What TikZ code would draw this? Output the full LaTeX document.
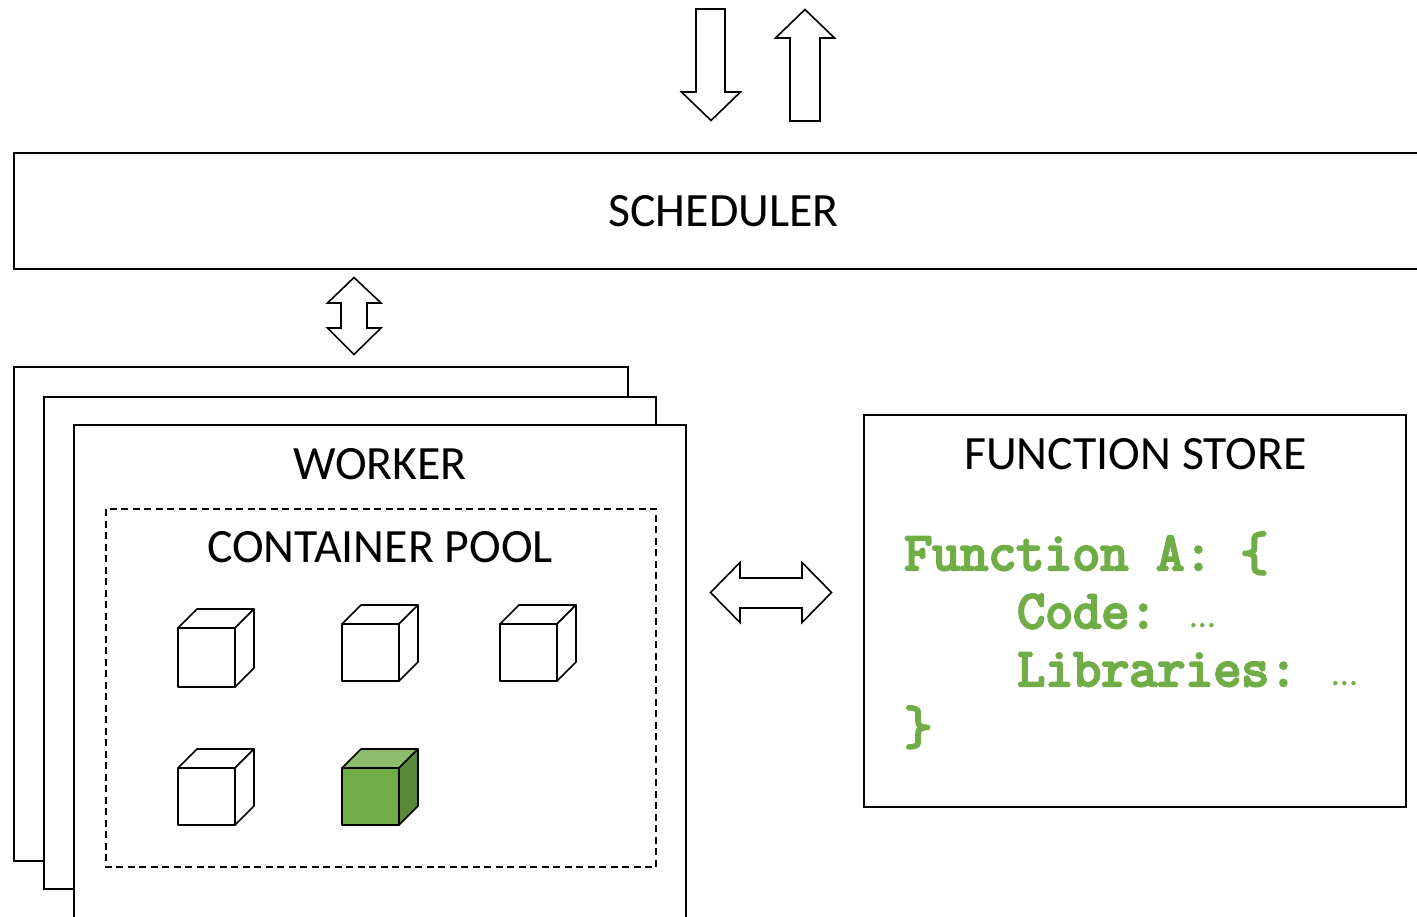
\documentclass[tikz,border=0pt]{standalone}
\usepackage{fontspec}
\setmainfont{Carlito}
\newfontfamily\codefont{Latin Modern Mono}[FakeBold=4.5]
\definecolor{cubegreen}{HTML}{70AD47}
\definecolor{cubetop}{HTML}{8DBD6C}
\definecolor{cubeside}{HTML}{5A8A39}
\definecolor{codegreen}{HTML}{70AD47}
\tikzset{
  outl/.style={draw=black,line width=1.6pt,line join=miter},
  cubeline/.style={draw=black,line width=1.6pt,line join=round},
  blockarrow/.style={outl,fill=white},
  label/.style={anchor=base,font=\fontsize{47.8}{48}\selectfont,inner sep=0pt,text=black},
  codeline/.style={anchor=base west,inner sep=0pt,text=codegreen,font=\fontsize{54.4}{54}\selectfont\codefont},
  dots/.style={anchor=base west,inner sep=0pt,text=codegreen,font=\fontsize{36}{36}\selectfont},
}
\newcommand{\drawcube}[8]{% left, front top, front bottom, back top, back bottom, front, top, side fills
  \draw[cubeline,fill=#6] (#1,#2) rectangle (#1+57,#3);
  \draw[cubeline,fill=#7] (#1,#2) -- (#1+19,#4) -- (#1+76,#4) -- (#1+57,#2) -- cycle;
  \draw[cubeline,fill=#8] (#1+57,#2) -- (#1+76,#4) -- (#1+76,#5) -- (#1+57,#3) -- cycle;
}
\begin{document}
\begin{tikzpicture}[x=1pt,y=-1pt]
\clip (0,0) rectangle (1417,917);
\fill[white] (0,0) rectangle (1417,917);

% external arrows
\draw[blockarrow] (696,9) -- (725,9) -- (725,92) -- (740.5,92) -- (711,120.5) -- (681.5,92) -- (696,92) -- cycle;
\draw[blockarrow] (805,9.5) -- (834.5,38) -- (820,38) -- (820,121) -- (790,121) -- (790,38) -- (775.5,38) -- cycle;

% scheduler
\draw[outl] (1430,153) -- (14,153) -- (14,269) -- (1430,269);
\node[label] (scheduler) at (723.5,227) {SCHEDULER};

% scheduler-worker arrow
\draw[blockarrow] (354,277.5) -- (381,303) -- (367,303) -- (367,328) -- (381,328) -- (354,354.5) -- (327.5,328) -- (341,328) -- (341,303) -- (327.5,303) -- cycle;

% worker stack
\draw[outl,fill=white] (14,367) rectangle (628,861);
\draw[outl,fill=white] (44,397) rectangle (656,889);
\draw[outl,fill=white] (74,425) rectangle (686,940);
\node[label] (worker) at (380,479) {WORKER};

% container pool
\draw[outl,line width=1.4pt,dash pattern=on 7pt off 4.5pt] (106,509) rectangle (656,867);
\node[label] (pool) at (380,562) {CONTAINER POOL};

% containers
\drawcube{178}{628}{687}{609}{668}{white}{white}{white}
\drawcube{342}{624}{681}{605}{662}{white}{white}{white}
\drawcube{500}{624}{681}{605}{662}{white}{white}{white}
\drawcube{178}{768}{825}{749}{806}{white}{white}{white}
\drawcube{342}{768}{825}{749}{806}{cubegreen}{cubetop}{cubeside}

% worker-store arrow
\draw[blockarrow] (710.5,592.5) -- (740,562.5) -- (740,578) -- (802,578) -- (802,562.5) -- (831.5,592.5) -- (802,622.5) -- (802,608) -- (740,608) -- (740,622.5) -- cycle;

% function store
\draw[outl] (864,415) rectangle (1406,807);
\node[label] (store) at (1135.5,469) {FUNCTION STORE};
\node[codeline] (fa) at (904,570) {Function A: \{};
\node[codeline] (code) at (1017,628) {Code:};
\node[dots] (codedots) at (1190,627) {…};
\node[codeline] (libs) at (1017,686) {Libraries:};
\node[dots] (libdots) at (1332,685) {…};
\node[codeline] (close) at (904,744) {\}};
\end{tikzpicture}
\end{document}
